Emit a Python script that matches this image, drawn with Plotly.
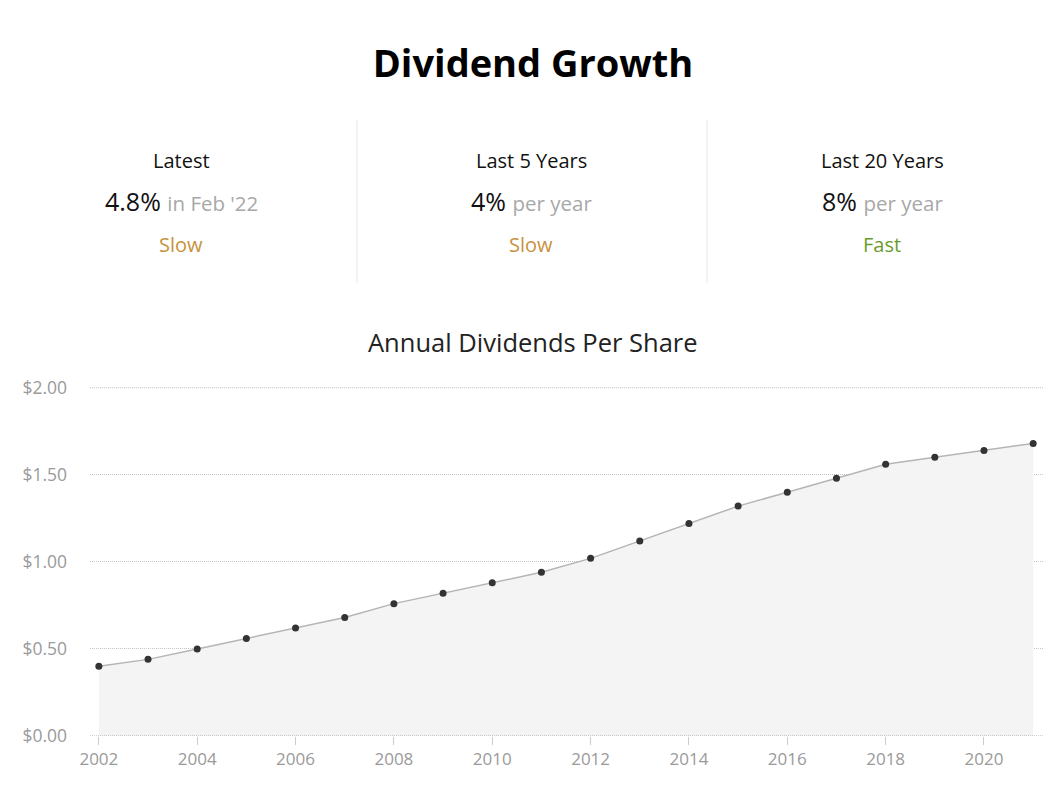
import plotly.graph_objects as go

years = list(range(2002, 2022))
dividends = [0.40, 0.44, 0.50, 0.56, 0.62, 0.68, 0.76, 0.82, 0.88, 0.94,
             1.02, 1.12, 1.22, 1.32, 1.40, 1.48, 1.56, 1.60, 1.64, 1.68]

y_tick_vals = [0, 0.5, 1.0, 1.5, 2.0]
y_tick_text = ["$0.00", "$0.50", "$1.00", "$1.50", "$2.00"]

stat_titles = ["Latest", "Last 5 Years", "Last 20 Years"]
stat_values = ["4.8%", "4%", "8%"]
stat_notes = ["in Feb '22", "per year", "per year"]
stat_labels = ["Slow", "Slow", "Fast"]
stat_label_colors = ["#c8913e", "#c8913e", "#6a9c2c"]

OFF = 8  # page body margin offset
W, H = 1053 - OFF, 793 - OFF
# target pixel positions (in screenshot coordinates)
PLOT_L, PLOT_R, PLOT_T, PLOT_B = 90, 1043, 387, 736
L = PLOT_L - OFF
T = PLOT_T - OFF
R = W - (PLOT_R - OFF)
B = H - (PLOT_B - OFF)
PW = W - L - R
PH = H - T - B

def px_x(x):
    return (x - OFF - L) / PW

def px_y(y):
    return (PLOT_B - y) / PH

FONT = "Open Sans"
GRID = "#c4c4c4"

fig = go.Figure()
fig.add_trace(go.Scatter(
    x=years, y=dividends, mode="lines+markers",
    fill="tozeroy", fillcolor="#f4f4f4",
    line=dict(color="#b5b5b5", width=1.5),
    marker=dict(color="#333333", size=7),
    hoverinfo="skip", showlegend=False,
))

annotations = []
shapes = []
col_centers = [181, 531, 882]
for i in range(3):
    cx = px_x(col_centers[i])
    annotations.append(dict(text=stat_titles[i], x=cx, y=px_y(160), xref="paper", yref="paper",
                            showarrow=False, xanchor="center", yanchor="middle",
                            font=dict(family=FONT, size=20, color="#111111")))
    annotations.append(dict(text=f"{stat_values[i]} <span style='color:#a8a8a8;font-size:20.5px'>{stat_notes[i]}</span>",
                            x=cx, y=px_y(201), xref="paper", yref="paper",
                            showarrow=False, xanchor="center", yanchor="middle",
                            font=dict(family=FONT, size=25, color="#111111")))
    annotations.append(dict(text=stat_labels[i], x=cx, y=px_y(245), xref="paper", yref="paper",
                            showarrow=False, xanchor="center", yanchor="middle",
                            font=dict(family=FONT, size=20, color=stat_label_colors[i])))

for sx in [357, 707]:
    shapes.append(dict(type="line", xref="paper", yref="paper",
                       x0=px_x(sx), x1=px_x(sx), y0=px_y(120), y1=px_y(283),
                       line=dict(color="#e6e6e6", width=1)))

annotations.append(dict(text="Annual Dividends Per Share", x=px_x(533), y=px_y(342),
                        xref="paper", yref="paper", showarrow=False,
                        xanchor="center", yanchor="middle",
                        font=dict(family=FONT, size=25.5, color="#222222")))

# top gridline (plotly drops the one at the range edge)
shapes.append(dict(type="line", xref="paper", yref="y", x0=0, x1=1,
                   y0=y_tick_vals[-1], y1=y_tick_vals[-1],
                   layer="below", line=dict(color=GRID, width=1, dash="1px,1px")))
# dotted baseline at zero
shapes.append(dict(type="line", xref="paper", yref="y", x0=0, x1=1,
                   y0=y_tick_vals[0], y1=y_tick_vals[0],
                   layer="above", line=dict(color="#a0a0a0", width=1, dash="1px,1px")))

fig.update_layout(
    width=W, height=H,
    margin=dict(l=L, r=R, t=T, b=B),
    paper_bgcolor="white", plot_bgcolor="white",
    title=dict(text="<b>Dividend Growth</b>", x=(533 - OFF) / W, xref="container",
               y=1 - (64 - OFF) / H, yref="container", xanchor="center", yanchor="middle",
               font=dict(family=FONT, size=38, color="#000000")),
    font=dict(family=FONT),
    annotations=annotations,
    shapes=shapes,
    xaxis=dict(range=[2001.82, 2021.2], tickmode="linear", tick0=2002, dtick=2,
               showgrid=False, zeroline=False, showline=False,
               ticks="outside", ticklen=8, tickcolor="#cccccc", tickwidth=1,
               tickfont=dict(family=FONT, size=17, color="#9a9a9a"), fixedrange=True),
    yaxis=dict(range=[0, 2.004], tickvals=y_tick_vals, ticktext=y_tick_text,
               showgrid=True, gridcolor=GRID, griddash="1px,1px", gridwidth=1,
               zeroline=False, showline=False, ticks="",
               ticklabelstandoff=22,
               tickfont=dict(family=FONT, size=17.5, color="#9a9a9a"), fixedrange=True),
)

fig.write_html("out.html", config={"displayModeBar": False})
